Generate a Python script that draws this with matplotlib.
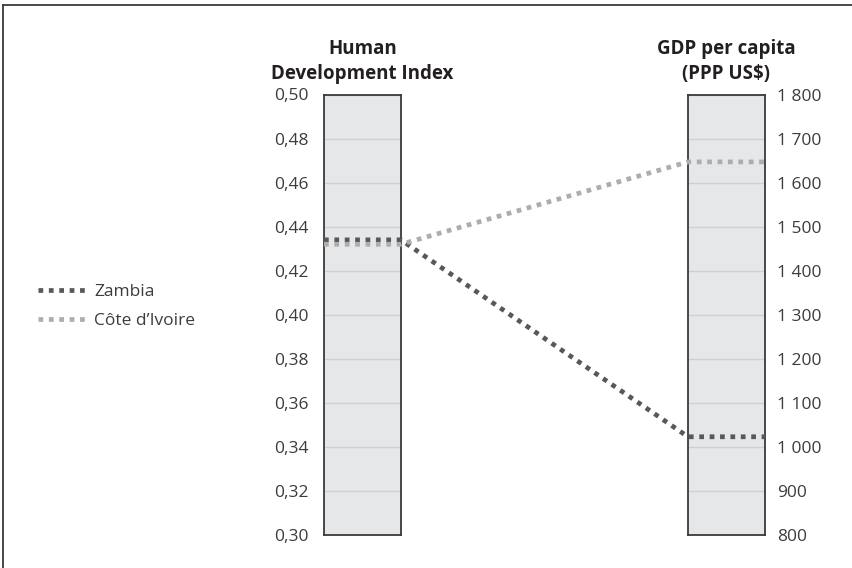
import matplotlib
matplotlib.use('Agg')
import matplotlib.pyplot as plt
from matplotlib.lines import Line2D

plt.rcParams['font.family'] = ['Open Sans', 'DejaVu Sans']

# data
countries = ['Zambia', 'Côte d’Ivoire']
hdi = [0.434, 0.432]
gdp = [1023, 1647]
colors = ['#58585a', '#adadad']

hdi_ticks = [0.30, 0.32, 0.34, 0.36, 0.38, 0.40, 0.42, 0.44, 0.46, 0.48, 0.50]
gdp_ticks = [800, 900, 1000, 1100, 1200, 1300, 1400, 1500, 1600, 1700, 1800]
hdi_lim = (0.30, 0.50)
gdp_lim = (800, 1800)

W, H = 853, 568
fig = plt.figure(figsize=(W / 100, H / 100), dpi=100)
fig.patch.set_facecolor('white')

# bar geometry in pixels
bar_w = 77
left_x, right_x = 324, 688
top_y, bot_y = 94.5, 535
b = 1 - bot_y / H
h = (bot_y - top_y) / H


def bar_axis(x0, lim, ticks, labels, side, title):
    ax = fig.add_axes([x0 / W, b, bar_w / W, h])
    ax.set_facecolor('#e6e7e9')
    ax.set_xlim(0, 1)
    ax.set_ylim(*lim)
    ax.set_xticks([])
    ax.set_yticks(ticks)
    ax.set_yticklabels(labels)
    ax.grid(axis='y', color='#cfd0d2', linewidth=1)
    ax.set_axisbelow(True)
    for s in ax.spines.values():
        s.set_color('#3a3a3a')
        s.set_linewidth(1.3)
    if side == 'right':
        ax.yaxis.tick_right()
        ax.tick_params(axis='y', pad=9)
    else:
        ax.tick_params(axis='y', pad=11)
    ax.tick_params(axis='y', length=0, labelsize=12.5, labelcolor='#3c3c3c')
    ax.set_title(title, fontsize=13.5, fontweight='bold', pad=11,
                 linespacing=1.32, color='#231f20')
    return ax


hdi_labels = [('%.2f' % t).replace('.', ',') for t in hdi_ticks]
gdp_labels = [('{:,}'.format(t)).replace(',', ' ') for t in gdp_ticks]

ax1 = bar_axis(left_x, hdi_lim, hdi_ticks, hdi_labels, 'left',
               'Human\nDevelopment Index')
ax2 = bar_axis(right_x, gdp_lim, gdp_ticks, gdp_labels, 'right',
               'GDP per capita\n(PPP US$)')

# overlay axis for the connecting lines, y normalised to 0..1
x0f = left_x / W
x1f = (right_x + bar_w) / W
ax = fig.add_axes([x0f, b, x1f - x0f, h])
ax.set_xlim(x0f, x1f)
ax.set_ylim(0, 1)
ax.axis('off')
ax.patch.set_alpha(0)

xs = [left_x / W, (left_x + bar_w) / W, right_x / W, (right_x + bar_w) / W]
handles = []
for name, v1, v2, c in zip(countries, hdi, gdp, colors):
    n1 = (v1 - hdi_lim[0]) / (hdi_lim[1] - hdi_lim[0])
    n2 = (v2 - gdp_lim[0]) / (gdp_lim[1] - gdp_lim[0])
    ln, = ax.plot(xs, [n1, n1, n2, n2], color=c, linewidth=3.4,
                  linestyle=(0, (1, 1.2)), dash_capstyle='butt',
                  solid_joinstyle='miter', label=name, clip_on=False)
    handles.append(ln)

leg = fig.legend(handles=handles, loc='center left',
                 bbox_to_anchor=(0.026, 0.46), frameon=False,
                 fontsize=12.5, handlelength=2.9, handletextpad=0.35,
                 labelspacing=0.75, labelcolor='#3c3c3c')

# frame lines along top and left edge
fig.add_artist(Line2D([3 / W, 1], [1 - 4.7 / H, 1 - 4.7 / H],
                      color='#3a3a3a', linewidth=1.3))
fig.add_artist(Line2D([3 / W, 3 / W], [0, 1 - 4.7 / H],
                      color='#3a3a3a', linewidth=1.3))

fig.savefig('out.png', dpi=100)
